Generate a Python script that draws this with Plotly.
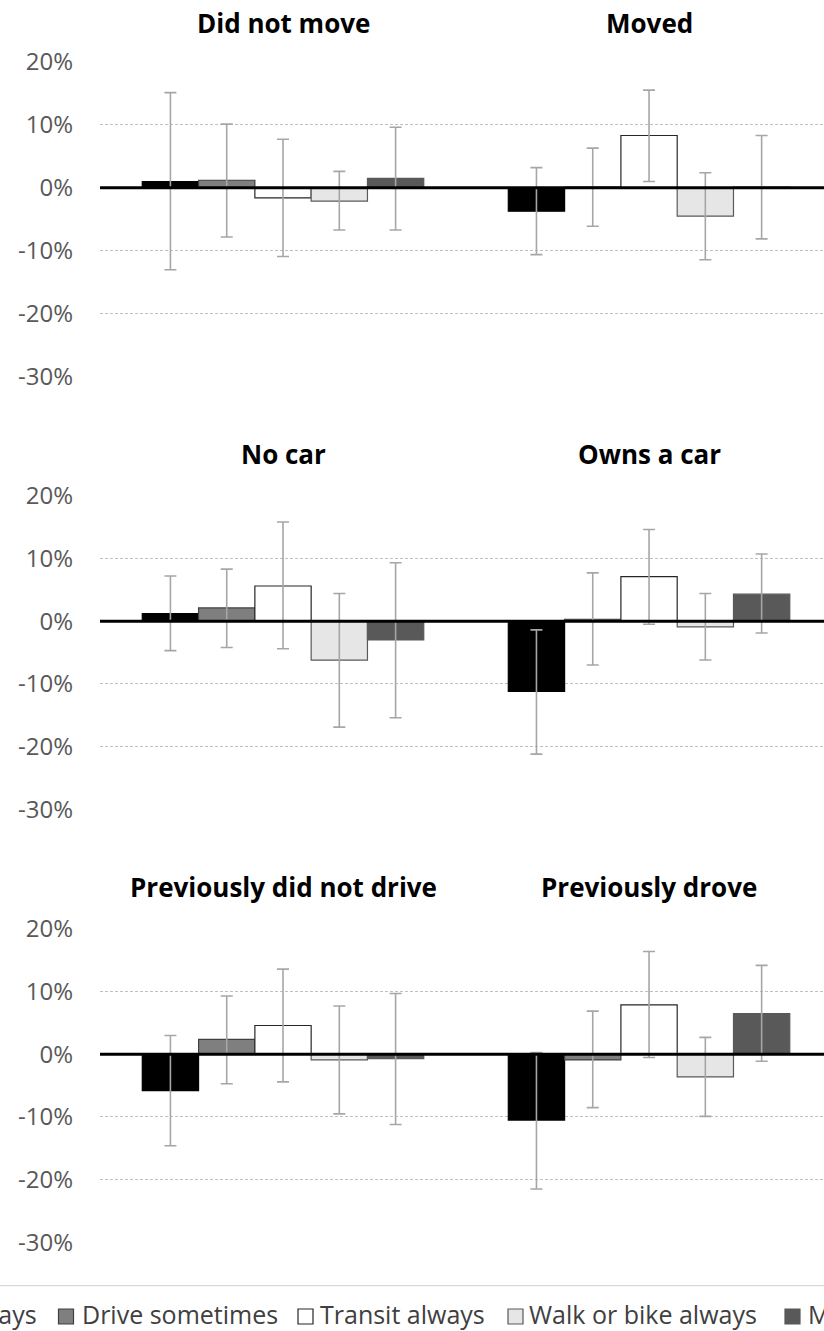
import plotly.graph_objects as go

# ---------------- data ----------------
panel_titles = [["Did not move", "Moved"],
                ["No car", "Owns a car"],
                ["Previously did not drive", "Previously drove"]]
series_names = ["Drive always", "Drive sometimes", "Transit always",
                "Walk or bike always", "Mixed"]

# values (%) in order: Did not move, Moved, No car, Owns a car, Prev. did not drive, Prev. drove
drive_always = [1.0, -3.7, 1.2, -11.2, -5.8, -10.5]
drive_sometimes = [1.2, 0.1, 2.1, 0.3, 2.4, -0.9]
transit_always = [-1.6, 8.3, 5.6, 7.1, 4.6, 7.9]
walk_bike_always = [-2.1, -4.5, -6.2, -0.9, -0.9, -3.6]
mixed = [1.5, 0.1, -3.0, 4.3, -0.7, 6.5]

# confidence interval bounds (%)
upper_drive_always = [15.1, 3.2, 7.2, -1.4, 3.0, 0.3]
upper_drive_sometimes = [10.1, 6.3, 8.3, 7.7, 9.3, 6.9]
upper_transit_always = [7.7, 15.5, 15.8, 14.6, 13.6, 16.4]
upper_walk_bike_always = [2.6, 2.4, 4.4, 4.4, 7.7, 2.7]
upper_mixed = [9.6, 8.3, 9.3, 10.7, 9.7, 14.2]

lower_drive_always = [-13.0, -10.6, -4.7, -21.2, -14.6, -21.5]
lower_drive_sometimes = [-7.8, -6.1, -4.2, -7.0, -4.7, -8.5]
lower_transit_always = [-10.9, 1.0, -4.4, -0.5, -4.4, -0.5]
lower_walk_bike_always = [-6.7, -11.4, -16.9, -6.2, -9.5, -9.9]
lower_mixed = [-6.7, -8.1, -15.4, -1.9, -11.2, -1.1]

tick_values = [-30, -20, -10, 0, 10, 20]
tick_labels = ["-30%", "-20%", "-10%", "0%", "10%", "20%"]

# ---------------- styling ----------------
W, H = 824, 1331
ML = 100
FONT = "Open Sans"
fills = ["#000000", "#7F7F7F", "#FFFFFF", "#E6E6E6", "#595959"]
outlines = ["#000000", "#404040", "#262626", "#595959", "#595959"]
values = [drive_always, drive_sometimes, transit_always, walk_bike_always, mixed]
uppers = [upper_drive_always, upper_drive_sometimes, upper_transit_always,
          upper_walk_bike_always, upper_mixed]
lowers = [lower_drive_always, lower_drive_sometimes, lower_transit_always,
          lower_walk_bike_always, lower_mixed]

# vertical pixel extents of each panel's plot area (top=20%, bottom=-30%)
panel_px = [(61.7, 377.0), (495.7, 809.3), (929.0, 1242.3)]
title_px = [23, 454, 887]


def py(px):
    return 1 - px / H


def pxx(px):
    return (px - ML) / (W - ML)


fig = go.Figure()
for r in range(3):
    ax = "" if r == 0 else str(r + 1)
    cats = panel_titles[r]
    for s in range(5):
        v = values[s][2 * r:2 * r + 2]
        up = uppers[s][2 * r:2 * r + 2]
        lo = lowers[s][2 * r:2 * r + 2]
        fig.add_trace(go.Bar(
            x=cats, y=v, name=series_names[s], showlegend=False,
            xaxis="x" + ax, yaxis="y" + ax,
            marker=dict(color=fills[s], line=dict(color=outlines[s], width=1.2)),
            error_y=dict(type="data", symmetric=False,
                         array=[u - a for u, a in zip(up, v)],
                         arrayminus=[a - l for a, l in zip(v, lo)],
                         color="#A6A6A6", thickness=1.6, width=6),
        ))

    top, bot = panel_px[r]
    fig.layout["xaxis" + ax] = dict(
        domain=[0, 1], anchor="y" + ax, range=[-0.5, 1.478],
        showticklabels=False, showgrid=False, zeroline=False, showline=False,
        ticks="", fixedrange=True, automargin=False)
    fig.layout["yaxis" + ax] = dict(
        domain=[py(bot), py(top)], anchor="x" + ax, range=[-30, 20],
        tickvals=tick_values, ticktext=tick_labels,
        tickfont=dict(family=FONT, size=24, color="#595959"),
        showgrid=True, gridcolor="#C0C0C0", gridwidth=1, griddash="3px,2px",
        zeroline=False, showline=False, ticks="", ticklabelstandoff=26,
        fixedrange=True, automargin=False)
    # horizontal axis line at 0
    fig.add_shape(type="line", xref="x" + ax + " domain", yref="y" + ax,
                  x0=0, x1=1, y0=0, y1=0, layer="above",
                  line=dict(color="#000000", width=3))
    # panel titles
    for c in range(2):
        fig.add_annotation(x=cats[c], y=py(title_px[r]), xref="x" + ax, yref="paper",
                           text="<b>" + cats[c] + "</b>", showarrow=False,
                           xanchor="center", yanchor="middle",
                           font=dict(family=FONT, size=26, color="#000000"))

# separator line above legend
fig.add_shape(type="line", xref="paper", yref="paper", x0=pxx(0), x1=pxx(W),
              y0=py(1285.7), y1=py(1285.7), line=dict(color="#D9D9D9", width=1.2))

# legend (clipped by the page edges, as in the original)
leg_sq = [-200, 58.5, 298, 508, 785]
leg_tx = [39, 80, 318, 527, 806]
for s in range(5):
    fig.add_shape(type="rect", xref="paper", yref="paper",
                  x0=pxx(leg_sq[s]), x1=pxx(leg_sq[s] + 15),
                  y0=py(1324), y1=py(1309),
                  fillcolor=fills[s], line=dict(color=outlines[s], width=1.2))
    fig.add_annotation(x=pxx(leg_tx[s]), y=py(1313.5), xref="paper", yref="paper",
                       text=series_names[s], showarrow=False,
                       xanchor="right" if s == 0 else "left", yanchor="middle",
                       font=dict(family=FONT, size=25, color="#404040"))

fig.update_layout(
    template="none",
    width=W, height=H, margin=dict(l=ML, r=0, t=0, b=0, pad=0, autoexpand=False),
    paper_bgcolor="white", plot_bgcolor="white",
    barmode="group", bargap=0.231, bargroupgap=0,
    showlegend=False, font=dict(family=FONT),
)

fig.write_html(
    "out.html",
    config={"displayModeBar": False, "responsive": False},
    post_script="document.body.style.margin='0';document.body.style.overflow='hidden';",
)
